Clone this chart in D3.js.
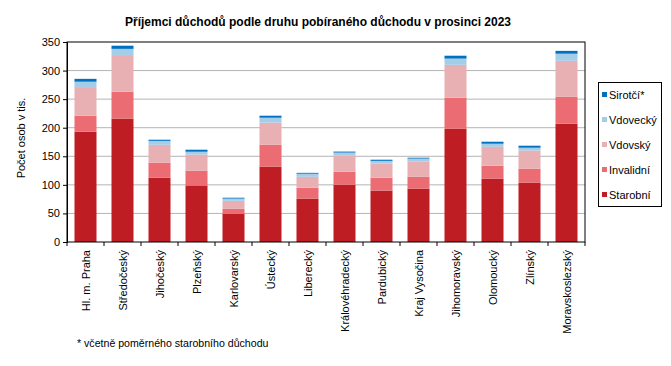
<!DOCTYPE html>
<html>
<head>
<meta charset="utf-8">
<script src="https://cdn.jsdelivr.net/npm/d3@7"></script>
<style>
  body { margin: 0; background: white; }
  text { font-family: "Liberation Sans", Arial, sans-serif; }
</style>
</head>
<body>
<div id="chart"></div>
<script>
let width = 671;
let height = 366;

let margin = { top: 42, right: 86, bottom: 124, left: 67 };

let regions = ["Hl. m. Praha", "Středočeský", "Jihočeský", "Plzeňský", "Karlovarský", "Ústecký",
	"Liberecký", "Královéhradecký", "Pardubický", "Kraj Vysočina", "Jihomoravský", "Olomoucký",
	"Zlínský", "Moravskoslezský"];

let starobni = [193, 216, 112.5, 99, 49.5, 132, 76, 100, 90, 93, 198, 111, 104, 207];
let invalidni = [28, 47, 26.5, 26, 8.5, 38.5, 19, 23, 22.5, 21, 54.5, 22.5, 24.5, 47];
let vdovsky = [48.5, 62.5, 31, 28, 14, 38.5, 19, 28, 24.5, 26.5, 57.5, 33, 31.5, 63];
let vdovecky = [11, 12.5, 7, 5, 4, 8.5, 5.5, 5.5, 5, 5.5, 11, 5.5, 5, 12.5];
let sirotci = [5, 5.5, 2, 3.5, 1.5, 3.5, 1.5, 1.7, 2, 1.5, 5, 3.5, 3.5, 5];

let seriesNames = ["Starobní", "Invalidní", "Vdovský", "Vdovecký", "Sirotčí*"];
let seriesColors = ["#be1e23", "#eb6d73", "#e8b0b3", "#a6cde8", "#0070c0"];
let yTicks = [0, 50, 100, 150, 200, 250, 300, 350];

let rows = regions.map((r, i) => ({
	region: r,
	"Starobní": starobni[i],
	"Invalidní": invalidni[i],
	"Vdovský": vdovsky[i],
	"Vdovecký": vdovecky[i],
	"Sirotčí*": sirotci[i]
}));

let stacked = d3.stack().keys(seriesNames)(rows);

let svg = d3.select("#chart")
	.append("svg")
	.attr("width", width)
	.attr("height", height);

svg.append("rect")
	.attr("width", width)
	.attr("height", height)
	.attr("fill", "white");

let xScale = d3.scaleBand()
	.domain(regions)
	.range([margin.left, width - margin.right])
	.paddingInner(0.405)
	.paddingOuter(0.2025);

let yScale = d3.scaleLinear()
	.domain([0, 350])
	.range([height - margin.bottom, margin.top]);

// gridlines
svg.append("g")
	.selectAll("line")
	.data(yTicks.slice(1, -1))
	.enter()
	.append("line")
	.attr("x1", margin.left)
	.attr("x2", width - margin.right)
	.attr("y1", d => yScale(d))
	.attr("y2", d => yScale(d))
	.attr("stroke", "#b4b4b4")
	.attr("stroke-width", 1);

// bars
svg.append("g")
	.selectAll("g")
	.data(stacked)
	.enter()
	.append("g")
	.attr("fill", (d, i) => seriesColors[i])
	.selectAll("rect")
	.data(d => d)
	.enter()
	.append("rect")
	.attr("x", d => xScale(d.data.region))
	.attr("y", d => yScale(d[1]))
	.attr("width", xScale.bandwidth())
	.attr("height", d => yScale(d[0]) - yScale(d[1]));

// frame
svg.append("rect")
	.attr("x", margin.left)
	.attr("y", margin.top)
	.attr("width", width - margin.left - margin.right)
	.attr("height", height - margin.top - margin.bottom)
	.attr("fill", "none")
	.attr("stroke", "black")
	.attr("stroke-width", 1);

// y axis
let yAxis = svg.append("g")
	.attr("transform", `translate(${margin.left},0)`)
	.call(d3.axisLeft(yScale).tickValues(yTicks).tickSize(4).tickPadding(3));
yAxis.select(".domain").attr("stroke", "black");
yAxis.selectAll("text").attr("font-size", 11).attr("fill", "black");

// x axis: ticks at band boundaries
let bounds = d3.range(regions.length + 1).map(i => margin.left + i * (width - margin.left - margin.right) / regions.length);
svg.append("g")
	.selectAll("line")
	.data(bounds)
	.enter()
	.append("line")
	.attr("x1", d => d)
	.attr("x2", d => d)
	.attr("y1", yScale(0))
	.attr("y2", yScale(0) + 4)
	.attr("stroke", "black");

svg.append("g")
	.selectAll("text")
	.data(regions)
	.enter()
	.append("text")
	.attr("transform", d => `translate(${xScale(d) + xScale.bandwidth() / 2 + 4},${yScale(0) + 8}) rotate(-90)`)
	.attr("text-anchor", "end")
	.attr("font-size", 11)
	.text(d => d);

// y label
svg.append("text")
	.attr("transform", `translate(25,138) rotate(-90)`)
	.attr("text-anchor", "middle")
	.attr("font-size", 11)
	.text("Počet osob v tis.");

// title
svg.append("text")
	.attr("x", 125)
	.attr("y", 26)
	.attr("font-size", 12)
	.attr("font-weight", "bold")
	.attr("textLength", 386)
	.attr("lengthAdjust", "spacingAndGlyphs")
	.text("Příjemci důchodů podle druhu pobíraného důchodu v prosinci 2023");

// legend
let legend = svg.append("g");
legend.append("rect")
	.attr("x", 598.5)
	.attr("y", 82.5)
	.attr("width", 63)
	.attr("height", 124)
	.attr("fill", "white")
	.attr("stroke", "black");

let legendOrder = seriesNames.slice().reverse();
let legendColors = seriesColors.slice().reverse();
let items = legend.selectAll("g.item")
	.data(legendOrder)
	.enter()
	.append("g")
	.attr("transform", (d, i) => `translate(602,${95 + i * 25})`);
items.append("rect")
	.attr("x", 0)
	.attr("y", -3)
	.attr("width", 5)
	.attr("height", 5)
	.attr("fill", (d, i) => legendColors[i]);
items.append("text")
	.attr("x", 7)
	.attr("y", 4)
	.attr("font-size", 11)
	.text(d => d);

// footnote
svg.append("text")
	.attr("x", 77)
	.attr("y", 347)
	.attr("font-size", 10.6)
	.text("* včetně poměrného starobního důchodu");
</script>
</body>
</html>
